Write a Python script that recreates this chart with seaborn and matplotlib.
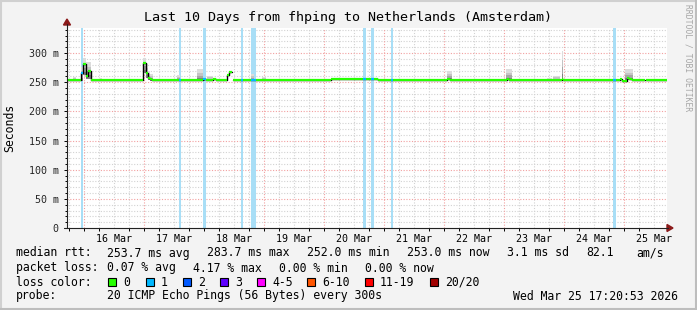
import numpy as np
import pandas as pd
import matplotlib
matplotlib.use("Agg")
import matplotlib.pyplot as plt
from matplotlib.patches import Polygon, Rectangle
from matplotlib.lines import Line2D
import seaborn as sns

# ---------------- data ----------------
title = "Last 10 Days from fhping to Netherlands (Amsterdam)"
start_time = "2026-03-15 17:20:53"
span_hours = 240
day_labels = ["16 Mar", "17 Mar", "18 Mar", "19 Mar", "20 Mar",
              "21 Mar", "22 Mar", "23 Mar", "24 Mar", "25 Mar"]
ytick_values = [0, 50, 100, 150, 200, 250, 300]
ytick_labels = ["0", "50 m", "100 m", "150 m", "200 m", "250 m", "300 m"]

# median rtt (ms), piecewise: segment start (hours since start), value, loss count
med_t = [0, 5.6, 6.4, 7.6, 8.2, 9.4, 30.4, 31.6, 32.4, 33.2, 34.0, 44.6, 45.6,
         54.4, 55.4, 58.4, 59.6, 64.0, 64.8, 65.8, 66.4, 69.6, 70.4, 73.6, 75.6,
         105.6, 118.4, 119.6, 121.6, 122.6, 124.4, 129.6, 130.4, 152.0, 153.2,
         176.0, 176.8, 198.0, 198.4, 218.4, 219.6, 221.2, 222.0, 224.0, 224.8,
         226.0, 231.2, 231.6, 233.6]
med_v = [253, 266, 281, 260, 269, 253, 283.7, 265, 258, 255, 253, 253, 253,
         255, 253, 256, 253, 262, 267, np.nan, 253, 253, 253, 253, 253,
         254.7, 254.7, 254.7, 254.7, 254.7, 253, 253, 253, 256, 253,
         255, 253, 255, 253, 253, 253, 255, 252, 257, 255,
         253, np.nan, 254.5, 253]
med_loss = [0, 1, 0, 0, 0, 0, 0, 0, 0, 0, 0, 1, 0,
            1, 0, 0, 0, 0, 0, 0, 0, 1, 0, 1, 0,
            0, 1, 0, 1, 0, 0, 1, 0, 0, 0,
            0, 0, 0, 0, 1, 0, 0, 0, 0, 0,
            0, 0, 0, 0]

# smoke (spread of the 20 pings): start, end (hours), low, high (ms)
smoke_t0 = [2.4, 5.6, 6.4, 7.6, 8.4, 13.2, 30.4, 31.6, 32.4, 33.2, 44.0, 52.0, 54.4,
            56.0, 73.6, 78.0, 103.6, 152.0, 175.6, 186.0, 192.0, 194.4, 197.8,
            223.2, 233.2]
smoke_t1 = [3.6, 6.4, 7.6, 8.4, 9.6, 14.0, 31.6, 32.4, 33.2, 34.4, 45.2, 54.4, 55.2,
            58.4, 74.8, 79.6, 105.6, 154.0, 178.0, 187.6, 194.0, 197.2, 198.2,
            226.4, 235.2]
smoke_lo = [252, 252, 262, 255, 256, 252, 266, 257, 253, 252, 252, 252, 252,
            252, 252, 252, 252, 253, 253, 252, 252, 252, 253,
            253, 252]
smoke_hi = [259, 276, 291, 285, 284, 258, 292, 282, 270, 264, 262, 272, 258,
            261, 264, 259, 256, 269, 272, 256, 258, 261, 303,
            272, 256]

loss_names = ["0", "1", "2", "3", "4-5", "6-10", "11-19", "20/20"]
loss_colors = ["#26ff00", "#00b8ff", "#0059ff", "#5e00ff", "#ff00ff",
               "#ff5500", "#ff0000", "#a00000"]
loss_band_color = "#a8def6"

stat_rows = [
    ["median rtt:", "253.7 ms avg", "283.7 ms max", "252.0 ms min",
     "253.0 ms now", "3.1 ms sd", "82.1", "am/s"],
    ["packet loss:", "0.07 % avg", "4.17 % max", "0.00 % min", "0.00 % now"],
]
probe_label = "probe:"
probe_text = "20 ICMP Echo Pings (56 Bytes) every 300s"
stamp_text = "Wed Mar 25 17:20:53 2026"

# ---------------- layout helpers ----------------
W, H = 697, 310
def fx(x):
    return x / W
def fy(y):
    return 1 - y / H

sns.set_theme(style="white")
plt.rcParams["font.family"] = ["DejaVu Sans Mono", "DejaVu Sans"]

fig = plt.figure(figsize=(W / 100, H / 100), dpi=100, facecolor="#f3f3f3")
ax = fig.add_axes([fx(67), 82 / H, 600 / W, 200 / H])
ax.set_facecolor("white")
ymax = 343
ax.set_xlim(0, span_hours)
ax.set_ylim(0, ymax)
for s in ax.spines.values():
    s.set_visible(False)

t0 = pd.Timestamp(start_time)
midnights = pd.date_range(t0.normalize() + pd.Timedelta(days=1), periods=10, freq="D")
mid_h = np.array([(m - t0) / pd.Timedelta(hours=1) for m in midnights])
six_h = np.arange(mid_h[0] - 6, span_hours, 6)
six_h = six_h[(six_h > 0) & (six_h < span_hours)]

# grid
grid_minor = "#d2d2d2"
grid_major = "#f2a0a0"
for h in six_h:
    if np.min(np.abs(mid_h - h)) > 1e-6:
        ax.axvline(h, color=grid_minor, lw=0.8, ls=(0, (1, 1.5)), zorder=0.5)
for h in mid_h:
    ax.axvline(h, color=grid_major, lw=0.8, ls=(0, (1, 1.5)), zorder=0.6)
for v in range(10, ymax, 10):
    if v % 50:
        ax.axhline(v, color=grid_minor, lw=0.8, ls=(0, (1, 1.5)), zorder=0.5)
    else:
        ax.axhline(v, color=grid_major, lw=0.8, ls=(0, (1, 1.5)), zorder=0.6)

# loss bands
ends = med_t[1:] + [span_hours]
for a, b, l in zip(med_t, ends, med_loss):
    if l > 0:
        ax.axvspan(a, b, color=loss_band_color, lw=0, zorder=1)

# smoke
layers = [(1.0, "#dcdcdc"), (0.7, "#c4c4c4"), (0.45, "#a6a6a6"), (0.22, "#808080")]
for a, b, lo, hi in zip(smoke_t0, smoke_t1, smoke_lo, smoke_hi):
    for f, c in layers:
        top = lo + f * (hi - lo)
        ax.fill_between([a, b], [lo, lo], [top, top], color=c, lw=0, zorder=2)

# median: black connecting steps (seaborn), coloured horizontal segments
xs, ys, units = [], [], []
unit = 0
for a, b, v in zip(med_t, ends, med_v):
    if np.isnan(v):
        unit += 1
        continue
    xs += [a, b]
    ys += [v, v]
    units += [unit, unit]
df = pd.DataFrame({"t": xs, "v": ys, "u": units})
sns.lineplot(data=df, x="t", y="v", units="u", estimator=None, sort=False,
             color="black", lw=1.0, ax=ax, zorder=3, legend=False)
for a, b, v, l in zip(med_t, ends, med_v, med_loss):
    if not np.isnan(v):
        ax.hlines(v, a, b, color=loss_colors[l], lw=1.6, zorder=4)

# ticks
noon_h = mid_h + 12
ax.set_xticks(noon_h, day_labels)
ax.set_xticks(six_h, minor=True)
ax.set_yticks(ytick_values, ytick_labels)
ax.set_yticks(np.arange(10, ymax, 10), minor=True)
ax.tick_params(axis="x", which="major", length=0, pad=4.0, labelsize=7.2, colors="black")
ax.tick_params(axis="x", which="minor", length=2, width=0.7, direction="out", color="black", bottom=True)
ax.tick_params(axis="y", which="major", length=2.2, width=0.7, pad=3.8, labelsize=7.2,
               direction="out", color="black", left=True)
ax.tick_params(axis="y", which="minor", length=1.5, width=0.7, direction="out", color="black", left=True)
ax.set_xlabel("")
ax.set_ylabel("")

# axes lines and arrows
axis_col = "#222222"
arrow_col = "#8b1a1a"
fig.add_artist(Line2D([fx(67), fx(67)], [fy(228), fy(24)], color=axis_col, lw=0.8))
fig.add_artist(Line2D([fx(64), fx(668)], [fy(228), fy(228)], color=axis_col, lw=0.8))
fig.add_artist(Polygon([[fx(63.5), fy(25)], [fx(70.5), fy(25)], [fx(67), fy(19)]],
                       closed=True, color=arrow_col, transform=fig.transFigure))
fig.add_artist(Polygon([[fx(667), fy(224.5)], [fx(667), fy(231.5)], [fx(673), fy(228)]],
                       closed=True, color=arrow_col, transform=fig.transFigure))

# title, y label, watermark
fig.text(fx(348), fy(18), title, ha="center", va="center", fontsize=9.6, color="black")
fig.text(fx(10), fy(128), "Seconds", rotation=90, ha="center", va="center",
         fontsize=8.3, color="black")
fig.text(fx(688), fy(4), "RRDTOOL / TOBI OETIKER", rotation=270, ha="center", va="top",
         fontsize=5.8, color="#a6a6a6")

# legend / stats
fs = 8.3
row1_x = [16, 107, 207, 307, 407, 507, 586, 636]
row2_x = [16, 107, 193, 279, 365]
for txt, x in zip(stat_rows[0], row1_x):
    fig.text(fx(x), fy(253), txt, ha="left", va="center", fontsize=fs, color="black")
for txt, x in zip(stat_rows[1], row2_x):
    fig.text(fx(x), fy(268), txt, ha="left", va="center", fontsize=fs, color="black")
fig.text(fx(16), fy(282), "loss color:", ha="left", va="center", fontsize=fs, color="black")
box_x = [108, 146, 183, 220, 257, 307, 365, 430]
for name, col, x in zip(loss_names, loss_colors, box_x):
    fig.add_artist(Rectangle((fx(x), fy(286)), 8 / W, 8 / H, facecolor=col,
                             edgecolor="black", lw=0.8, transform=fig.transFigure))
    fig.text(fx(x + 15), fy(282), name, ha="left", va="center", fontsize=fs, color="black")
fig.text(fx(16), fy(296), probe_label, ha="left", va="center", fontsize=fs, color="black")
fig.text(fx(107), fy(296), probe_text, ha="left", va="center", fontsize=fs, color="black")
fig.text(fx(513), fy(296), stamp_text, ha="left", va="center", fontsize=fs, color="black")

# frame
fig.add_artist(Line2D([0, 1], [fy(0.8), fy(0.8)], color="#d0d0d0", lw=1.5))
fig.add_artist(Line2D([fx(0.8), fx(0.8)], [0, 1], color="#d0d0d0", lw=1.5))
fig.add_artist(Line2D([0, 1], [fy(309), fy(309)], color="#bdbdbd", lw=1.5))
fig.add_artist(Line2D([fx(696), fx(696)], [0, 1], color="#bdbdbd", lw=1.5))

fig.savefig("out.png", dpi=100, facecolor=fig.get_facecolor())
